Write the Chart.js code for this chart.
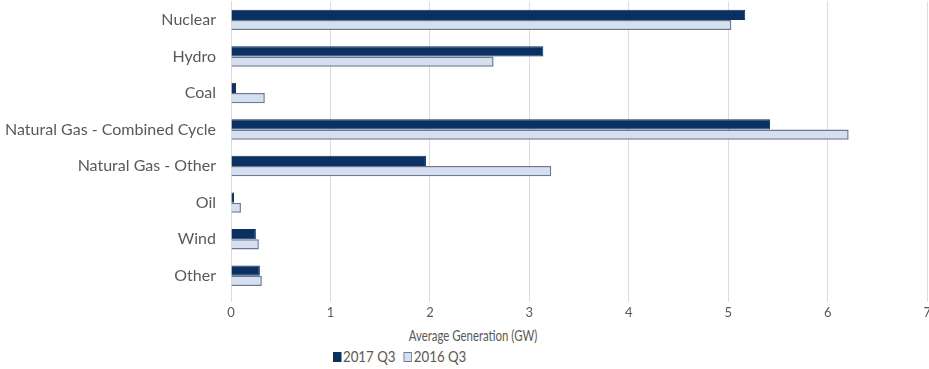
<!DOCTYPE html>
<html>
<head>
<meta charset="utf-8">
<script src="https://cdn.jsdelivr.net/npm/chart.js"></script>
<style>
  html, body { margin: 0; padding: 0; background: #fff; overflow: hidden; }
  body { width: 929px; height: 369px; position: relative; font-family: Lato, sans-serif; }
  /* canvas starts above the window so the plot area reaches the top edge */
  #wrap { position: absolute; left: 0; top: -23px; width: 934px; height: 348px; }
  #axisTitle { position: absolute; top: 326px; left: 473px; transform: translateX(-50%) scaleX(0.76); white-space: nowrap;
    font-size: 15px; color: #595959; }
  #legend { position: absolute; top: 346px; left: 333px; transform-origin: 0 0; transform: scaleX(0.83);
    font-size: 16px; color: #595959; white-space: nowrap; }
  #legend span.box { display: inline-block; width: 10px; height: 10px; margin-right: 2px; vertical-align: 0px; box-sizing: border-box; }
  #legend span.item { margin-right: 10px; }
</style>
</head>
<body>
<div id="wrap"><canvas id="genChart"></canvas></div>
<div id="axisTitle">Average Generation (GW)</div>
<div id="legend"></div>
<script>
// categories and series (GW)
const categories = ['Nuclear', 'Hydro', 'Coal', 'Natural Gas - Combined Cycle',
  'Natural Gas - Other', 'Oil', 'Wind', 'Other'];
const q3_2017 = [5.17, 3.14, 0.05, 5.42, 1.96, 0.03, 0.25, 0.29];
const q3_2016 = [5.03, 2.64, 0.34, 6.21, 3.22, 0.10, 0.28, 0.31];
const seriesLabels = ['2017 Q3', '2016 Q3'];
const xTicks = [0, 1, 2, 3, 4, 5, 6, 7];

const darkBlue = '#0a3161';
const lightBlue = '#d5dff0';
const lightBorder = '#6b7a93';

const ctx = document.getElementById('genChart');
const genChart = new Chart(ctx, {
  type: 'bar',
  data: {
    labels: categories,
    datasets: [
      {
        label: seriesLabels[0],
        data: q3_2017,
        backgroundColor: darkBlue,
        borderColor: darkBlue,
        borderWidth: 1,
        categoryPercentage: 0.56,
        barPercentage: 1.0
      },
      {
        label: seriesLabels[1],
        data: q3_2016,
        backgroundColor: lightBlue,
        borderColor: lightBorder,
        borderWidth: 1.5,
        categoryPercentage: 0.56,
        barPercentage: 1.0
      }
    ]
  },
  options: {
    indexAxis: 'y',
    responsive: true,
    maintainAspectRatio: false,
    animation: false,
    layout: { padding: 0 },
    plugins: {
      legend: { display: false },
      tooltip: { enabled: false }
    },
    scales: {
      x: {
        min: 0,
        max: 7,
        afterBuildTicks: scale => { scale.ticks = xTicks.map(v => ({ value: v })); },
        afterFit: scale => { scale.height = 31; },
        grid: { color: '#dcdcdc', lineWidth: 1, tickLength: 8 },
        border: { display: false },
        ticks: {
          color: '#595959',
          font: { family: 'Lato', size: 13 },
          padding: 3,
          maxRotation: 0
        }
      },
      y: {
        afterFit: scale => { scale.width = 231; },
        grid: { display: false, drawTicks: false },
        border: { display: true, color: '#dcdcdc' },
        ticks: {
          color: '#595959',
          font: { family: 'Lato', size: 16 },
          padding: 15
        }
      }
    }
  }
});

// legend as plain text under the axis title
const legend = document.getElementById('legend');
genChart.data.datasets.forEach(ds => {
  const item = document.createElement('span');
  item.className = 'item';
  const box = document.createElement('span');
  box.className = 'box';
  box.style.background = ds.backgroundColor;
  box.style.border = '1px solid ' + ds.borderColor;
  item.appendChild(box);
  item.appendChild(document.createTextNode(ds.label));
  legend.appendChild(item);
});
</script>
</body>
</html>
